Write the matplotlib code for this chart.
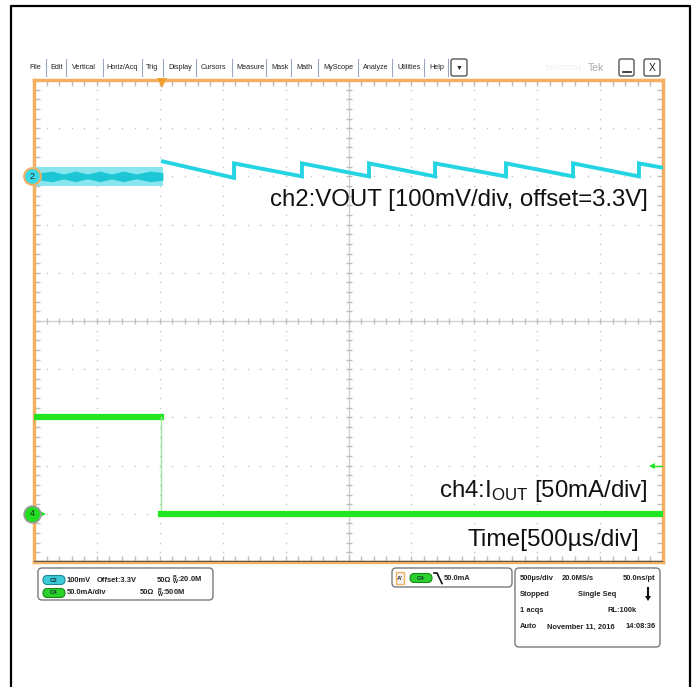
import numpy as np
import matplotlib.pyplot as plt
from matplotlib.patches import FancyBboxPatch, Rectangle, Polygon

plt.rcParams['font.family'] = ['Liberation Sans', 'DejaVu Sans']
plt.rcParams['mathtext.fontset'] = 'custom'
plt.rcParams['mathtext.rm'] = 'Liberation Sans'
plt.rcParams['mathtext.it'] = 'Liberation Sans:bold'
plt.rcParams['mathtext.bf'] = 'Liberation Sans:bold'

W, H = 699, 687

# time base: 500 us/div, 10 divisions, time measured from left edge of screen
us_per_div = 500
trig_t = 1015

# ch2 VOUT, mV around the 3.3 V offset, 100 mV/div, marker on +3 div
ch2_pos = 3
ch2_mv_div = 100
ch2_pre_t = [0, 1025]
ch2_pre_mv = [0, 0]
ch2_pre_band = 19
# ripple envelope of the darker core before the step
ch2_core_t = [0, 143, 235, 326, 425, 525, 616, 707, 815, 922, 1025]
ch2_core_half = [6, 11, 5, 11, 5, 11, 5, 11, 5, 11, 8]
ch2_jump_t = [1025, 1590, 2130, 2663, 3188, 3752, 4285, 4809]
ch2_peak_mv = [31, 27, 27, 27, 27, 27, 27, 27]
ch2_valley_mv = [-3, 0, 0, 0, 0, 0, 0]
ch2_end_mv = 18

# ch4 IOUT, mA, 50 mA/div, marker on -4 div
ch4_pos = -4
ch4_ma_div = 50
ch4_t = [0, 1010, 1010, 5000]
ch4_ma = [100, 100, 0, 0]
trig_level_ma = 50

cyan = '#25d4e2'
cyan_light = '#8ae6ee'
cyan_dark = '#1cc6d4'
green = '#22e622'
orange = '#f4b060'
grid_c = '#c4c4c4'

fig = plt.figure(figsize=(W / 100, H / 100), dpi=100)
bg = fig.add_axes([0, 0, 1, 1])
bg.set_xlim(0, W)
bg.set_ylim(H, 0)
bg.axis('off')

# outer frame
bg.plot([11, 11, 690, 690], [H + 5, 6, 6, H + 5], color='black', lw=1.6)

# menu bar
menu_items = ["File", "Edit", "Vertical", "Horiz/Acq", "Trig", "Display", "Cursors",
              "Measure", "Mask", "Math", "MyScope", "Analyze", "Utilities", "Help"]
menu_x = [29, 50, 72, 106, 146, 168, 201, 236, 271, 296, 323, 363, 398, 429]
sep_x = [46, 66, 103, 142, 163, 196, 232, 266, 291, 318, 358, 392, 424, 448]
for name, x in zip(menu_items, menu_x):
    bg.text(x, 67.5, name, fontsize=5.2, color='#222222', va='center', ha='left')
for x in sep_x:
    bg.plot([x, x], [59, 76], color='#9aa6bf', lw=0.8)
bg.add_patch(FancyBboxPatch((451, 59), 16, 17, boxstyle='round,pad=0,rounding_size=2',
                            fc='white', ec='#444444', lw=0.9))
bg.text(459, 68, "▼", fontsize=5, ha='center', va='center', color='#222222')
bg.text(545, 68, "DPO7054", fontsize=6, color='#eeeeee', va='center')
bg.text(588, 68, "Tek", fontsize=7.5, color='#aaaaaa', va='center')
bg.add_patch(FancyBboxPatch((619, 59), 15, 17, boxstyle='round,pad=0,rounding_size=2',
                            fc='white', ec='#444444', lw=0.9))
bg.plot([622.5, 630.5], [71.5, 71.5], color='#222222', lw=1.2)
bg.add_patch(FancyBboxPatch((644, 59), 16, 17, boxstyle='round,pad=0,rounding_size=2',
                            fc='white', ec='#444444', lw=0.9))
bg.text(652, 68, "X", fontsize=7.5, ha='center', va='center', color='#222222')

# scope screen
ax = fig.add_axes([34 / W, 1 - 562 / H, 629 / W, 482 / H])
ax.set_xlim(0, 10)
ax.set_ylim(-5, 5)
ax.set_xticks([])
ax.set_yticks([])
for s in ax.spines.values():
    s.set_color(orange)
    s.set_linewidth(2.5)
ax.plot([0, 10], [-4.985, -4.985], color='#555555', lw=1.0, zorder=6)

minor_x = np.arange(0, 10.001, 0.2)
minor_y = np.arange(-5, 5.001, 0.2)
for xi in range(1, 10):
    if xi != 5:
        ax.plot([xi] * len(minor_y), minor_y, ls='none', marker='s', ms=1.0,
                color=grid_c, mew=0)
for yi in range(-4, 5):
    if yi != 0:
        ax.plot(minor_x, [yi] * len(minor_x), ls='none', marker='s', ms=1.0,
                color=grid_c, mew=0)
ax.axvline(5, color='#d0d0d0', lw=1.0)
ax.axhline(0, color='#d0d0d0', lw=1.0)
ax.plot(minor_x, [0] * len(minor_x), ls='none', marker='|', ms=5, color='#bdbdbd', mew=1)
ax.plot([5] * len(minor_y), minor_y, ls='none', marker='_', ms=5, color='#bdbdbd', mew=1)
ax.plot(minor_x, [5] * len(minor_x), ls='none', marker='|', ms=8, color='#bdbdbd', mew=1)
ax.plot(minor_x, [-5] * len(minor_x), ls='none', marker='|', ms=8, color='#bdbdbd', mew=1)
ax.plot([0] * len(minor_y), minor_y, ls='none', marker='_', ms=8, color='#bdbdbd', mew=1)
ax.plot([10] * len(minor_y), minor_y, ls='none', marker='_', ms=8, color='#bdbdbd', mew=1)

# ch2 before the load step: noisy band with rippling core
pre_x = np.array(ch2_pre_t) / us_per_div
pre_y = ch2_pos + np.array(ch2_pre_mv) / ch2_mv_div
ax.fill_between(pre_x, pre_y - ch2_pre_band / ch2_mv_div, pre_y + ch2_pre_band / ch2_mv_div,
                color=cyan_light, lw=0, zorder=3)
core_x = np.array(ch2_core_t) / us_per_div
core_h = np.array(ch2_core_half) / ch2_mv_div
ax.fill_between(core_x, ch2_pos - core_h, ch2_pos + core_h, color=cyan_dark, lw=0, zorder=3)

# ch2 after the load step: sawtooth
saw_t, saw_v = [], []
for i, tj in enumerate(ch2_jump_t):
    saw_t.append(tj)
    saw_v.append(ch2_peak_mv[i])
    if i < len(ch2_valley_mv):
        saw_t.append(ch2_jump_t[i + 1])
        saw_v.append(ch2_valley_mv[i])
saw_t.append(5000)
saw_v.append(ch2_end_mv)
ax.plot(np.array(saw_t) / us_per_div, ch2_pos + np.array(saw_v) / ch2_mv_div,
        color=cyan, lw=2.8, solid_joinstyle='miter', zorder=4)

# ch4 current
c4x = np.array(ch4_t) / us_per_div
c4y = ch4_pos + np.array(ch4_ma) / ch4_ma_div
ax.plot(c4x[:2], c4y[:2], color=green, lw=4.5, zorder=4)
ax.plot(c4x[1:3], c4y[1:3], color='#9be89b', lw=1.0, zorder=4)
ax.plot(c4x[2:], c4y[2:], color=green, lw=4.5, zorder=4)

# trigger level marker on the right
tl = ch4_pos + trig_level_ma / ch4_ma_div
ax.plot([9.82, 10], [tl, tl], color=green, lw=1.0, zorder=5)
ax.plot([9.82], [tl], marker='<', ms=5, color=green, mew=0, zorder=5)

# trigger position marker at the top
ax.plot([trig_t / us_per_div], [4.93], marker='v', ms=7, color='#f0a030', mew=0,
        clip_on=False, zorder=8)

# channel markers on the left
ax.plot([-0.03], [ch2_pos], marker='o', ms=12, mfc='#3cd8e4', mec=orange, mew=1.5,
        clip_on=False, zorder=7)
ax.text(-0.03, ch2_pos, "2", fontsize=6.5, ha='center', va='center', color='#113344',
        zorder=8, clip_on=False)
ax.plot([0.05, 0.15], [ch4_pos, ch4_pos], color=green, lw=1.2, clip_on=False, zorder=6)
ax.plot([0.15], [ch4_pos], marker='>', ms=4, color=green, mew=0, clip_on=False, zorder=6)
ax.plot([-0.03], [ch4_pos], marker='o', ms=12, mfc='#22dd22', mec='#999999', mew=1.2,
        clip_on=False, zorder=7)
ax.text(-0.03, ch4_pos, "4", fontsize=6.5, ha='center', va='center', color='#113311',
        zorder=8, clip_on=False)

# labels
ax.text(9.76, 2.51, "ch2:VOUT [100mV/div, offset=3.3V]", fontsize=17.3, ha='right',
        va='center', color='#111111', zorder=9)
ax.text(9.76, -3.53, r"ch4:I$_{\mathrm{OUT}}$ [50mA/div]", fontsize=17.3, ha='right',
        va='center', color='#111111', zorder=9)
ax.text(9.63, -4.54, "Time[500µs/div]", fontsize=17.6, ha='right', va='center',
        color='#111111', zorder=9)

# bottom info panels
def box(x, y, w, h):
    bg.add_patch(FancyBboxPatch((x, y), w, h, boxstyle='round,pad=0,rounding_size=4',
                                fc='white', ec='#7a7a7a', lw=1.0))

def pill(x, y, label, fc, ec):
    bg.add_patch(FancyBboxPatch((x, y - 4.5), 22, 9, boxstyle='round,pad=0,rounding_size=4.5',
                                fc=fc, ec=ec, lw=0.8))
    bg.text(x + 11, y, label, fontsize=4.3, ha='center', va='center', color='#103030',
            fontweight='bold')

def info(x, y, s, ha='left'):
    bg.text(x, y, s, fontsize=5.4, fontweight='bold', ha=ha, va='center', color='#222222')

box(38, 568, 175, 32)
pill(43, 580, "C2", '#3ccbd6', '#1b8a94')
info(67, 580, "100mV")
info(97, 580, "Offset:3.3V")
info(157, 580, "50Ω")
info(172, 580, r"$^{B}_{W}$:20.0M")
pill(43, 593, "C4", '#2cd22c', '#188818')
info(67, 593, "50.0mA/div")
info(140, 593, "50Ω")
info(157, 593, r"$^{B}_{W}$:500M")

box(392, 568, 120, 19)
bg.add_patch(Rectangle((396, 572), 8, 12, fc='#f3f3f3', ec=orange, lw=1.0))
bg.text(400, 578, "A'", fontsize=4.5, ha='center', va='center', fontweight='bold', color='#333333')
pill(410, 578, "C4", '#2cd22c', '#188818')
bg.plot([434, 437, 442], [573, 573, 583.5], color='#111111', lw=1.2)
info(444, 578, "50.0mA")

box(515, 568, 145, 79)
info(520, 579, "500µs/div")
info(562, 579, "20.0MS/s")
info(655, 579, "50.0ns/pt", ha='right')
info(520, 594, "Stopped")
info(578, 594, "Single Seq")
bg.plot([648, 648], [588, 597], color='#111111', lw=1.5)
bg.add_patch(Polygon([(645, 596), (651, 596), (648, 601)], closed=True, fc='#111111', ec='none'))
info(520, 610, "1 acqs")
info(607, 610, "RL:100k")
info(520, 627, "Auto")
info(547, 627, "November 11, 2016")
info(656, 627, "14:08:36", ha='right')

fig.savefig("out.png", dpi=100)
